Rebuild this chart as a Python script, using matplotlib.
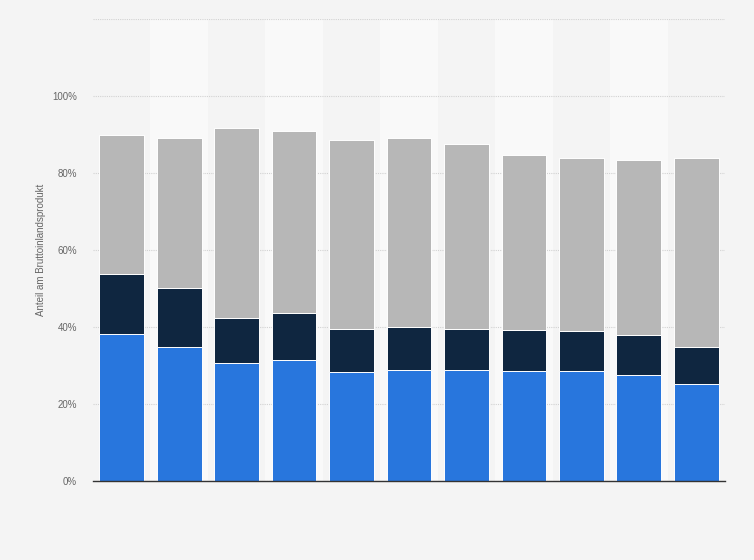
import matplotlib
matplotlib.use("Agg")
import matplotlib.pyplot as plt
import numpy as np

# Data (% of GDP)
categories = ["1", "2", "3", "4", "5", "6", "7", "8", "9", "10", "11"]
blue_vals = [38.2, 34.8, 30.6, 31.4, 28.2, 28.7, 28.7, 28.5, 28.5, 27.5, 25.1]
navy_tops = [53.8, 50.2, 42.3, 43.6, 39.5, 40.0, 39.5, 39.2, 38.9, 37.9, 34.7]
gray_tops = [89.8, 89.1, 91.5, 90.9, 88.6, 88.9, 87.4, 84.5, 83.7, 83.2, 83.7]
navy_vals = [n - b for n, b in zip(navy_tops, blue_vals)]
gray_vals = [g - n for g, n in zip(gray_tops, navy_tops)]
yticks = [0, 20, 40, 60, 80, 100]
ytick_labels = ["0%", "20%", "40%", "60%", "80%", "100%"]
ylabel = "Anteil am Bruttoinlandsprodukt"

plt.rcParams['font.family'] = ['Liberation Sans', 'DejaVu Sans']

fig = plt.figure(figsize=(7.54, 5.6), dpi=100, facecolor="#f4f4f4")
ax = fig.add_axes([93/754, 1 - 481/560, 632/754, (481 - 18.5)/560])
ax.set_facecolor("#f4f4f4")

x = np.arange(len(categories))
ax.set_xlim(-0.5, len(categories) - 0.5)
ax.set_ylim(0, 120)

# alternating column bands
for i in x:
    if i % 2 == 1:
        ax.axvspan(i - 0.5, i + 0.5, color="#f9f9f9", zorder=0, lw=0)

# grid
for t in yticks + [120]:
    ax.axhline(t, color="#d2d2d2", lw=0.8, ls=(0, (1, 1)), zorder=1)

w = 0.78
ax.bar(x, blue_vals, width=w, color="#2876dd", edgecolor="white", linewidth=0.7, zorder=3)
ax.bar(x, navy_vals, width=w, bottom=blue_vals, color="#0f2640", edgecolor="white", linewidth=0.7, zorder=3)
ax.bar(x, gray_vals, width=w, bottom=navy_tops, color="#b7b7b7", edgecolor="white", linewidth=0.7, zorder=3)

for s in ["top", "right", "left"]:
    ax.spines[s].set_visible(False)
ax.spines["bottom"].set_color("#333333")
ax.spines["bottom"].set_linewidth(1.0)
ax.spines["bottom"].set_zorder(4)

ax.set_yticks(yticks)
ax.set_yticklabels(ytick_labels, fontsize=7, color="#666666")
ax.tick_params(axis="y", length=0, pad=11.5)
ax.set_xticks([])
ax.set_ylabel(ylabel, fontsize=7, color="#666666")
ax.yaxis.set_label_coords((46 - 93) / 632, 0.5)

fig.savefig("out.png", dpi=100, facecolor=fig.get_facecolor())
